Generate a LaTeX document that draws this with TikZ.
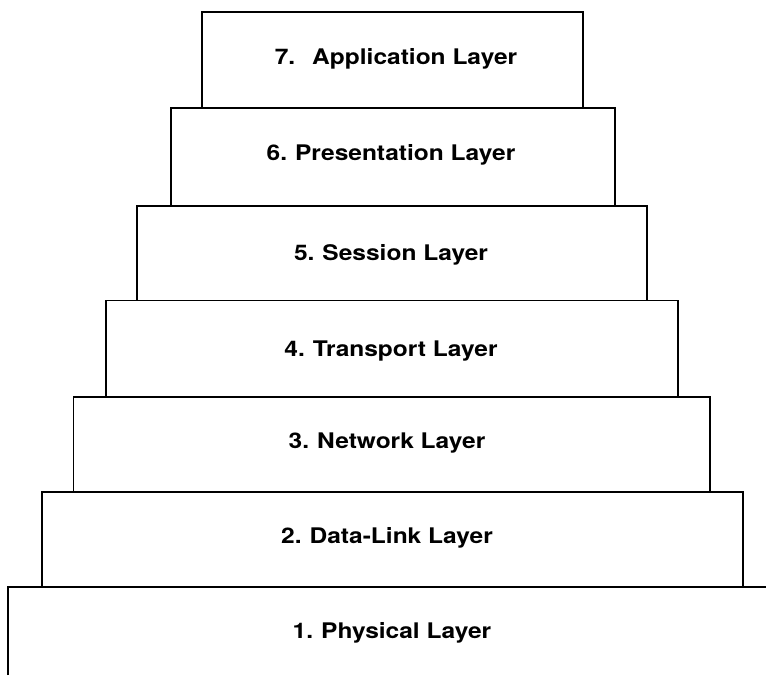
\documentclass[tikz,border=0pt]{standalone}
\usepackage{fontspec}
\newfontfamily\lblfont[FakeStretch=1.14]{TeX Gyre Heros}
\begin{document}
\begin{tikzpicture}[x=1pt,y=-1pt,
  layer/.style={draw=black, line width=1.2pt, inner sep=0pt, outer sep=0pt, anchor=north west},
  lbl/.style={anchor=base, inner sep=0pt, font=\lblfont\bfseries\fontsize{21.5pt}{24pt}\selectfont, text=black}]
\useasboundingbox (0,0) rectangle (766,675);
% boxes
\node[layer, minimum width=381pt, minimum height=96pt]   (L7) at (202,12) {};
\node[layer, minimum width=444pt, minimum height=98pt]   (L6) at (171,108) {};
\node[layer, minimum width=510pt, minimum height=94.5pt] (L5) at (137,206) {};
\node[layer, minimum width=572pt, minimum height=96.5pt] (L4) at (106,300.5) {};
\node[layer, minimum width=636.5pt, minimum height=95pt] (L3) at (73.5,397) {};
\node[layer, minimum width=701pt, minimum height=95pt]   (L2) at (42,492) {};
\coordinate (L1bl) at (8,675);
\coordinate (L1tl) at (8,587);
\coordinate (L1tr) at (766,587);
\draw[line width=1.2pt] (L1bl) -- (L1tl) -- (L1tr);
% labels
\node[lbl] (T7) at (396,64)  {7.\hspace{17pt}Application Layer};
\node[lbl] (T6) at (391,160) {6.\hspace{8pt}Presentation Layer};
\node[lbl] (T5) at (391,260) {5.\hspace{8pt}Session Layer};
\node[lbl] (T4) at (391,356) {4.\hspace{8pt}Transport Layer};
\node[lbl] (T3) at (387,448) {3.\hspace{8pt}Network Layer};
\node[lbl] (T2) at (387,543) {2.\hspace{8pt}Data-Link Layer};
\node[lbl] (T1) at (392,638) {1.\hspace{8pt}Physical Layer};
\end{tikzpicture}
\end{document}
